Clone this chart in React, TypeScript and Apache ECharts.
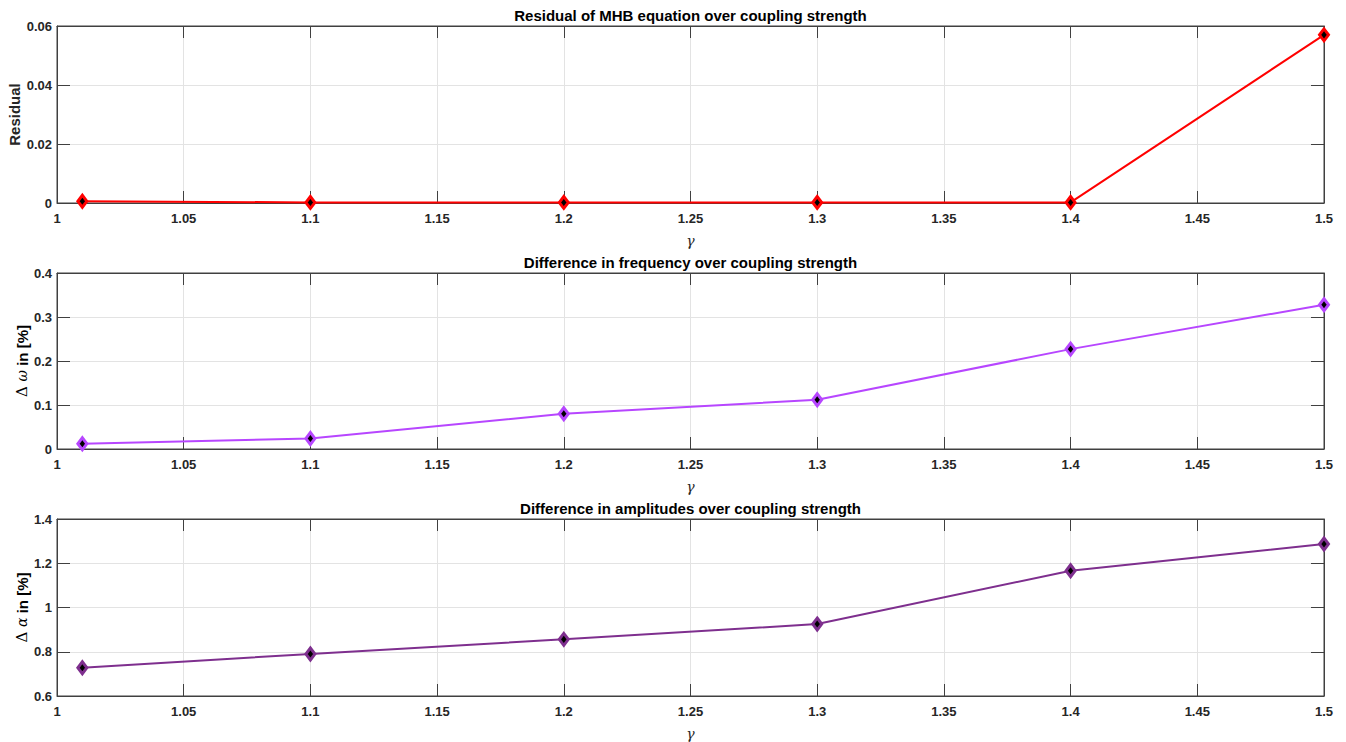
import React, { useEffect, useRef } from "react";
import * as echarts from "echarts";

const xValues = [1.01, 1.1, 1.2, 1.3, 1.4, 1.5];
const residual = [0.0006, 0.0002, 0.0002, 0.0002, 0.0002, 0.057];
const deltaOmega = [0.012, 0.024, 0.08, 0.112, 0.227, 0.328];
const deltaAlpha = [0.728, 0.79, 0.856, 0.925, 1.166, 1.287];

const titles = [
  "Residual of MHB equation over coupling strength",
  "Difference in frequency over coupling strength",
  "Difference in amplitudes over coupling strength",
];
const yMins = [0, 0, 0.6];
const yMaxs = [0.06, 0.4, 1.4];
const yIntervals = [0.02, 0.1, 0.2];
const seriesData = [residual, deltaOmega, deltaAlpha];
const colors = ["#ff0000", "#b746ff", "#7e2f8e"];

const W = 1346;
const H = 742;
const LEFT = 57;
const RIGHT = 1324;
const tops = [26, 273, 519];
const heights = [177, 176, 177];
const AX = "#404040";
const TXT = "#262626";
const FONT = "'Liberation Sans', Arial, Helvetica, sans-serif";
const SERIF = "'DejaVu Serif', 'Liberation Serif', serif";

export default function App() {
  const ref = useRef<HTMLDivElement>(null);
  useEffect(() => {
    if (!ref.current) return;
    const chart = echarts.init(ref.current, undefined, { renderer: "svg" });
    const grids: any[] = [];
    const xAxes: any[] = [];
    const yAxes: any[] = [];
    const series: any[] = [];
    const graphics: any[] = [];
    const cx = (LEFT + RIGHT) / 2;
    for (let i = 0; i < 3; i++) {
      grids.push({
        left: LEFT,
        width: RIGHT - LEFT,
        top: tops[i],
        height: heights[i],
        show: true,
        borderColor: AX,
        borderWidth: 1,
        backgroundColor: "#fff",
      });
      const xBase = {
        gridIndex: i,
        type: "value",
        min: 1,
        max: 1.5,
        interval: 0.05,
        axisLine: { show: true, onZero: false, lineStyle: { color: AX, width: 1 } },
        axisTick: { show: true, inside: true, length: 12, lineStyle: { color: AX } },
      };
      xAxes.push({
        ...xBase,
        position: "bottom",
        axisLabel: { show: true, color: TXT, fontWeight: "bold", fontSize: 13, fontFamily: FONT, margin: 9 },
        splitLine: { show: true, lineStyle: { color: "#e3e3e3", width: 1 } },
      });
      xAxes.push({
        ...xBase,
        position: "top",
        axisLabel: { show: false },
        splitLine: { show: false },
      });
      const yBase = {
        gridIndex: i,
        type: "value",
        min: yMins[i],
        max: yMaxs[i],
        interval: yIntervals[i],
        axisLine: { show: true, onZero: false, lineStyle: { color: AX, width: 1 } },
        axisTick: { show: true, inside: true, length: 13, lineStyle: { color: AX } },
      };
      yAxes.push({
        ...yBase,
        position: "left",
        axisLabel: { show: true, color: TXT, fontWeight: "bold", fontSize: 13, fontFamily: FONT, margin: 5 },
        splitLine: { show: true, lineStyle: { color: "#e3e3e3", width: 1 } },
      });
      yAxes.push({
        ...yBase,
        position: "right",
        axisLabel: { show: false },
        splitLine: { show: false },
      });
      series.push({
        type: "line",
        xAxisIndex: 2 * i,
        yAxisIndex: 2 * i,
        data: xValues.map((x, j) => [x, seriesData[i][j]]),
        symbol: "diamond",
        symbolSize: [9, 12],
        showSymbol: true,
        lineStyle: { color: colors[i], width: 2 },
        itemStyle: { color: "#000", borderColor: colors[i], borderWidth: 3 },
        z: 5,
      });
      graphics.push({
        type: "text",
        x: cx,
        y: tops[i] - 11,
        style: {
          text: titles[i],
          fill: "#000",
          font: `bold 15px ${FONT}`,
          textAlign: "center",
          textVerticalAlign: "middle",
        },
      });
      graphics.push({
        type: "text",
        x: cx,
        y: tops[i] + heights[i] + 38,
        style: {
          text: "γ",
          fill: TXT,
          font: `italic 14px ${SERIF}`,
          textAlign: "center",
          textVerticalAlign: "middle",
        },
      });
    }
    const yLabelY = tops.map((t, i) => t + heights[i] / 2);
    graphics.push({
      type: "text",
      x: 14,
      y: yLabelY[0],
      rotation: Math.PI / 2,
      style: {
        text: "Residual",
        fill: TXT,
        font: `bold 15px ${FONT}`,
        textAlign: "center",
        textVerticalAlign: "middle",
      },
    });
    const greek = ["ω", "α"];
    for (let k = 0; k < 2; k++) {
      graphics.push({
        type: "text",
        x: 22,
        y: yLabelY[k + 1],
        rotation: Math.PI / 2,
        style: {
          text: `{d|Δ }{g|${greek[k]}}{t| in [%]}`,
          textAlign: "center",
          textVerticalAlign: "middle",
          rich: {
            d: { fontFamily: SERIF, fontSize: 15, color: TXT },
            g: { fontFamily: SERIF, fontStyle: "italic", fontSize: 14, color: TXT },
            t: { fontFamily: FONT, fontWeight: "bold", fontSize: 15, color: TXT },
          },
        },
      });
    }
    chart.setOption({
      animation: false,
      backgroundColor: "#fff",
      grid: grids,
      xAxis: xAxes,
      yAxis: yAxes,
      series,
      graphic: graphics,
    });
    return () => chart.dispose();
  }, []);
  return (
    <div
      ref={ref}
      style={{ position: "fixed", left: 0, top: 0, width: W, height: H, background: "#fff" }}
    />
  );
}
